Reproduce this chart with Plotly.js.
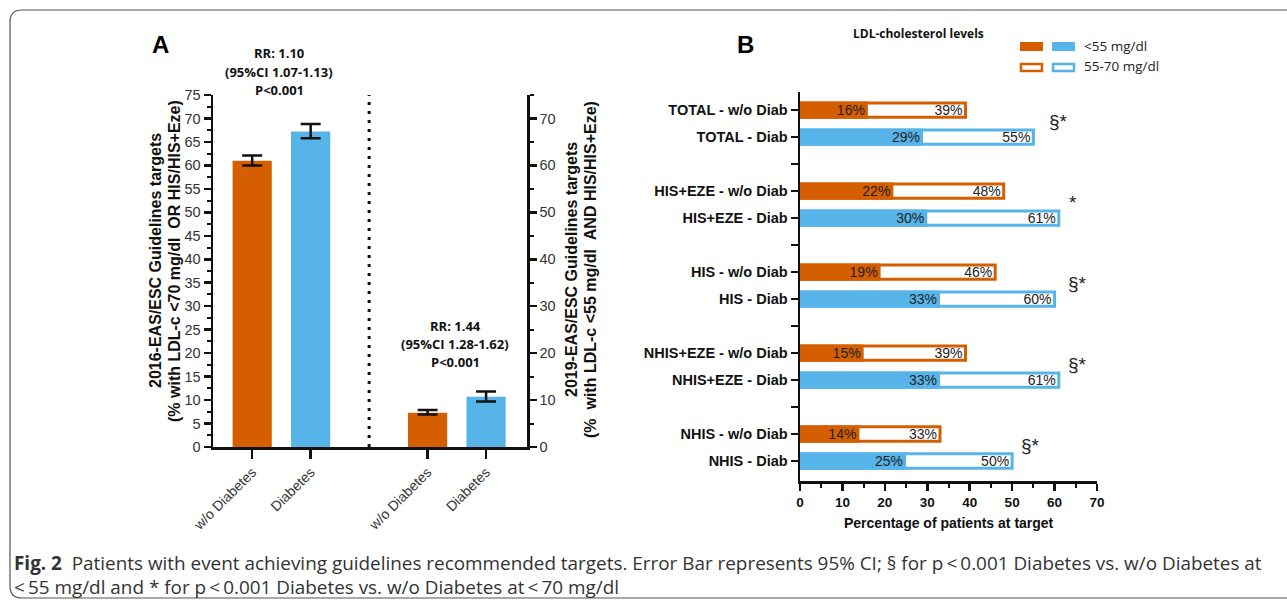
<!DOCTYPE html>
<html><head><meta charset="utf-8">
<script src="https://cdn.plot.ly/plotly-3.0.1.min.js"></script>
<style>html,body{margin:0;padding:0;background:#fff}</style>
</head><body><div id="chart" style="width:1287px;height:600px"></div>
<script>
// ---------- Panel A data ----------
const aCategories = ['w/o Diabetes', 'Diabetes', 'w/o Diabetes', 'Diabetes'];
const aGroup = [0, 0, 1, 1];           // 0 = 2016 guidelines, 1 = 2019 guidelines
const aValues = [61.0, 67.2, 7.3, 10.7];
const aErrPlus = [1.1, 1.6, 0.6, 1.1];
const aErrMinus = [1.0, 1.4, 0.4, 1.0];
const aDiabetes = [0, 1, 0, 1];
const aStats = [
  ['RR: 1.10', '(95%CI 1.07-1.13)', 'P<0.001'],
  ['RR: 1.44', '(95%CI 1.28-1.62)', 'P<0.001']
];

// ---------- Panel B data ----------
const bCategories = ['TOTAL - w/o Diab', 'TOTAL - Diab', 'HIS+EZE - w/o Diab', 'HIS+EZE - Diab',
  'HIS - w/o Diab', 'HIS - Diab', 'NHIS+EZE - w/o Diab', 'NHIS+EZE - Diab', 'NHIS - w/o Diab', 'NHIS - Diab'];
const bLt55 = [16, 29, 22, 30, 19, 33, 15, 33, 14, 25];
const bLt70 = [39, 55, 48, 61, 46, 60, 39, 61, 33, 50];
const bDiabetes = [0, 1, 0, 1, 0, 1, 0, 1, 0, 1];
const bSignif = ['§*', '*', '§*', '§*', '§*'];
const xTicksB = [0, 10, 20, 30, 40, 50, 60, 70];
const yTicksA = [0, 5, 10, 15, 20, 25, 30, 35, 40, 45, 50, 55, 60, 65, 70, 75];
const yTicksA2 = [0, 10, 20, 30, 40, 50, 60, 70];

// ---------- style ----------
const ORANGE = '#D55E00', BLUE = '#56B4E9', INK = '#111';
const W = 1287, H = 600;
const px = x => x / W, py = y => 1 - y / H;
const colorOf = d => d ? BLUE : ORANGE;

const aX = aGroup.map((g, i) => i + g);                        // 0,1,3,4
const bY = bCategories.map((c, i) => i + Math.floor(i / 2));  // 0,1,3,4,...
const bTickVals = [], bTickText = [];
for (let k = 0; k <= bY[bY.length - 1]; k++) {
  bTickVals.push(k);
  const idx = bY.indexOf(k);
  bTickText.push(idx >= 0 ? bCategories[idx] : '');
}

const barTextFont = { size: 14, color: '#222', family: 'Liberation Sans, Arial, sans-serif' };
const traces = [
  {
    type: 'bar', x: aX, y: aValues, width: 0.67, xaxis: 'x', yaxis: 'y',
    marker: { color: aDiabetes.map(colorOf), line: { width: 0 } },
    error_y: { type: 'data', array: aErrPlus, arrayminus: aErrMinus, visible: true, color: INK, thickness: 2.5, width: 10 },
    hoverinfo: 'skip'
  },
  { type: 'scatter', x: [], y: [], xaxis: 'x', yaxis: 'y2', hoverinfo: 'skip' },
  {
    type: 'bar', orientation: 'h', x: bLt70, y: bY, width: 0.53, xaxis: 'x2', yaxis: 'y3',
    marker: { color: '#ffffff', line: { color: bDiabetes.map(colorOf), width: 3 } },
    text: bLt70.map(v => v + '%'), textposition: 'inside', insidetextanchor: 'end', constraintext: 'none',
    textangle: 0, textfont: barTextFont, hoverinfo: 'skip'
  },
  {
    type: 'bar', orientation: 'h', x: bLt55, y: bY, width: 0.64, xaxis: 'x2', yaxis: 'y3',
    marker: { color: bDiabetes.map(colorOf), line: { width: 0 } },
    text: bLt55.map(v => v + '%'), textposition: 'inside', insidetextanchor: 'end', constraintext: 'none',
    textangle: 0, textfont: barTextFont, hoverinfo: 'skip'
  }
];

const axisCommon = {
  showline: true, linewidth: 2.5, linecolor: INK, ticks: 'outside', tickwidth: 2.5, tickcolor: INK,
  showgrid: false, zeroline: false, fixedrange: true
};

const annotations = [];
const shapes = [];
function note(text, x, y, opts) {
  annotations.push(Object.assign({ text, x: px(x), y: py(y), xref: 'paper', yref: 'paper', showarrow: false,
    xanchor: 'center', yanchor: 'middle' }, opts || {}));
}
// panel letters
note('<b>A</b>', 160, 45, { font: { size: 24, color: '#000', family: 'Liberation Sans, Arial' } });
note('<b>B</b>', 745, 45, { font: { size: 24, color: '#000', family: 'Liberation Sans, Arial' } });
// RR stats
const statFont = { size: 13, color: '#111', family: 'Open Sans, sans-serif', weight: 'bold' };
[[279, [53, 72, 90]], [455, [326, 344, 362]]].forEach((p, gi) => {
  aStats[gi].forEach((t, li) => note(t, p[0], p[1][li], { font: statFont }));
});
// y-axis titles panel A
const titleFont = { size: 16, color: '#111', family: 'Liberation Sans, Arial', weight: 'bold' };
note('2016-EAS/ESC Guidelines targets', 155, 261, { textangle: -90, font: titleFont });
note('(% with LDL-c <70 mg/dl\u00a0\u00a0OR HIS/HIS+Eze)', 174, 261, { textangle: -90, font: titleFont });
note('2019-EAS/ESC Guidelines targets', 571, 270, { textangle: -90, font: titleFont });
note('(%\u00a0\u00a0with LDL-c <55 mg/dl\u00a0\u00a0AND HIS/HIS+Eze)', 590, 270, { textangle: -90, font: titleFont });
// panel B header and legend
note('LDL-cholesterol levels', 918, 33, { font: { size: 12, color: '#111', family: 'Open Sans, sans-serif', weight: 'bold' } });
note('<55 mg/dl', 1082, 46, { xanchor: 'left', font: { size: 13.5, color: '#222', family: 'Open Sans, sans-serif' } });
note('55-70 mg/dl', 1082, 66, { xanchor: 'left', font: { size: 13.5, color: '#222', family: 'Open Sans, sans-serif' } });
function rectPx(x0, y0, x1, y1, fill, line, lw) {
  shapes.push({ type: 'rect', xref: 'paper', yref: 'paper', x0: px(x0), x1: px(x1), y0: py(y1), y1: py(y0),
    fillcolor: fill, line: { color: line, width: lw } });
}
rectPx(1020, 42, 1043, 51, ORANGE, ORANGE, 0);
rectPx(1052, 42, 1075, 51, BLUE, BLUE, 0);
rectPx(1021, 64, 1042, 71, '#fff', ORANGE, 2.5);
rectPx(1053, 64, 1074, 71, '#fff', BLUE, 2.5);
// significance markers
const sigX = [1058, 1073, 1077, 1077, 1030];
bSignif.forEach((s, g) => {
  annotations.push({ text: s, x: px(sigX[g]), xref: 'paper', y: g * 3 + 0.5, yref: 'y3', yshift: 2,
    showarrow: false, xanchor: 'center', yanchor: 'middle', font: { size: 19, color: '#222', family: 'Liberation Sans, Arial' } });
});
// x title panel B
note('Percentage of patients at target', 949, 523, { font: { size: 14, color: '#111', family: 'Liberation Sans, Arial', weight: 'bold' } });
// caption
const capFont = { size: 18.9, color: '#333', family: 'Open Sans, sans-serif' };
note('<b>Fig. 2</b>\u00a0\u00a0Patients with event achieving guidelines recommended targets. Error Bar represents 95% CI; § for p\u2009<\u20090.001 Diabetes vs. w/o Diabetes at', 12, 563, { xanchor: 'left', font: capFont });
note('<\u200955 mg/dl and * for p\u2009<\u20090.001 Diabetes vs. w/o Diabetes at\u2009<\u200970 mg/dl', 12, 587, { xanchor: 'left', font: capFont });

// dotted separator in panel A
shapes.push({ type: 'line', xref: 'x', yref: 'y', x0: 2, x1: 2, y0: 0, y1: 75, line: { color: INK, width: 3, dash: '3px,6px' } });
// rounded frame
const fx0 = 10, fy0 = 10, fx1 = 1300, fy1 = 598, r = 12;
const P = (x, y) => px(x) + ',' + py(y);
shapes.push({ type: 'path', xref: 'paper', yref: 'paper', line: { color: '#555', width: 1.2 },
  path: 'M' + P(fx0, fy1 - r) + ' L' + P(fx0, fy0 + r) + ' Q' + P(fx0, fy0) + ' ' + P(fx0 + r, fy0) +
    ' L' + P(fx1, fy0) + ' M' + P(fx0, fy1 - r) + ' Q' + P(fx0, fy1) + ' ' + P(fx0 + r, fy1) + ' L' + P(fx1, fy1) });

const layout = {
  width: W, height: H, margin: { l: 0, r: 0, t: 0, b: 0 },
  paper_bgcolor: '#ffffff', plot_bgcolor: 'rgba(0,0,0,0)', barmode: 'overlay', showlegend: false,
  font: { family: 'Liberation Sans, Arial, sans-serif', color: '#222' },
  xaxis: Object.assign({}, axisCommon, {
    domain: [px(213), px(527)], range: [-0.67, 4.70], anchor: 'y',
    tickmode: 'array', tickvals: aX, ticktext: aCategories, tickangle: -45, ticklen: 9,
    tickfont: { size: 14, color: '#333' }
  }),
  yaxis: Object.assign({}, axisCommon, {
    domain: [py(447), py(95)], range: [0, 75], anchor: 'x', tickmode: 'array', tickvals: yTicksA, ticklen: 7,
    minor: { dtick: 2.5, tick0: 0, ticks: 'outside', ticklen: 4, tickwidth: 2, tickcolor: INK },
    tickfont: { size: 14.5, color: '#333' }
  }),
  yaxis2: Object.assign({}, axisCommon, {
    overlaying: 'y', side: 'right', anchor: 'x', range: [0, 75], tickmode: 'array', tickvals: yTicksA2, ticklen: 7,
    minor: { dtick: 5, tick0: 0, ticks: 'outside', ticklen: 4, tickwidth: 2, tickcolor: INK },
    tickfont: { size: 14.5, color: '#333' }
  }),
  xaxis2: Object.assign({}, axisCommon, {
    domain: [px(800), px(1097)], range: [0, 70], anchor: 'y3', tickmode: 'array', tickvals: xTicksB, ticklen: 7,
    minor: { dtick: 5, tick0: 0, ticks: 'outside', ticklen: 4, tickwidth: 2, tickcolor: INK },
    tickfont: { size: 13.5, color: '#111', weight: 'bold' }
  }),
  yaxis3: Object.assign({}, axisCommon, {
    domain: [py(481), py(92)], range: [13.74, -0.67], anchor: 'x2', tickmode: 'array',
    tickvals: bTickVals, ticktext: bTickText, ticklen: 7,
    tickfont: { size: 14.5, color: '#111', weight: 'bold' }
  }),
  annotations, shapes
};

Plotly.newPlot('chart', traces, layout, { displayModeBar: false, staticPlot: true });
</script></body></html>
